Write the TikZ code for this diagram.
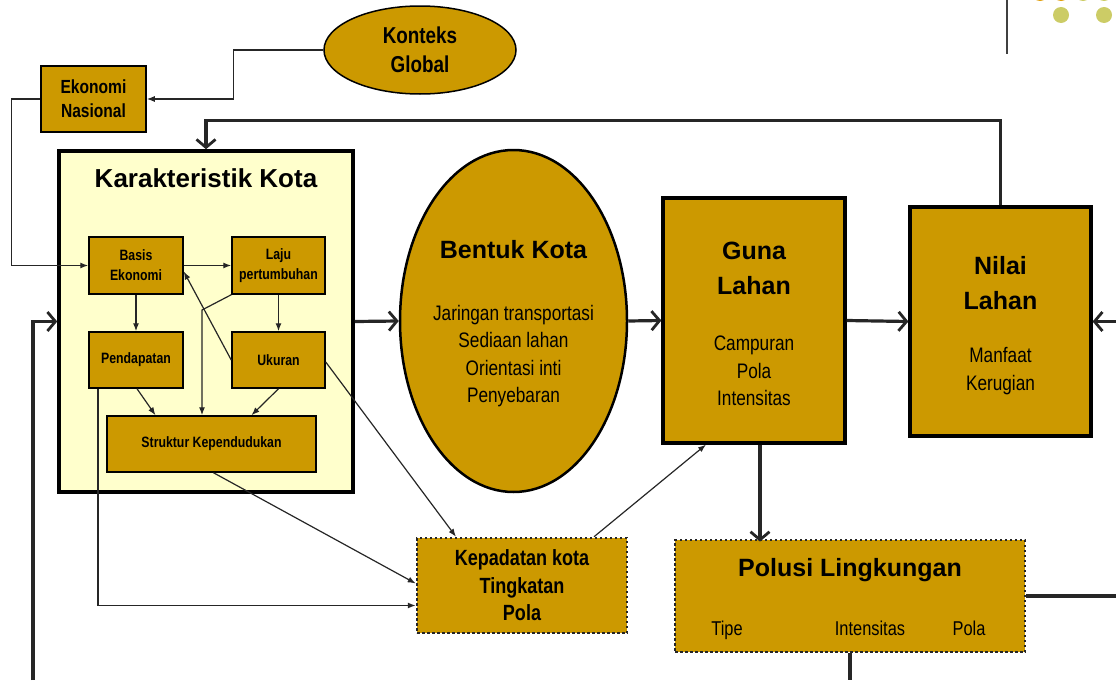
\documentclass[tikz,border=0pt]{standalone}
\usepackage{fontspec}
\setmainfont{Liberation Sans}
\newfontfamily\nar[FakeStretch=0.82]{Liberation Sans}
\usetikzlibrary{arrows.meta,shapes.geometric}
\definecolor{gold}{HTML}{CC9900}
\definecolor{pale}{HTML}{FFFFCC}
\definecolor{olivedot}{HTML}{CCCC66}
\definecolor{orangedot}{HTML}{E0A010}
\begin{document}
\begin{tikzpicture}[x=1pt,y=-1pt,
  gbox/.style={draw=black, fill=gold, line width=1.5pt, inner sep=0pt, align=center},
  bigbox/.style={draw=black, fill=gold, line width=3.2pt, inner sep=0pt},
  dotbox/.style={draw=black!85, fill=gold, line width=2.5pt, dash pattern=on 2.5pt off 2.5pt, inner sep=0pt},
  oval/.style={ellipse, draw=black, fill=gold, inner sep=0pt, align=center},
  thinline/.style={line width=1.2pt, draw=black!85},
  tharr/.style={thinline, -{Latex[length=8pt,width=6pt]}},
  thickline/.style={line width=3.2pt, draw=black!85},
  tkarr/.style={thickline, -{Straight Barb[length=8pt,width=19pt,line width=2.8pt]}},
  smallfont/.style={font=\nar\bfseries\fontsize{15}{20}\selectfont},
  titlefont/.style={font=\bfseries\fontsize{25}{35}\selectfont, align=center},
  subfont/.style={font=\nar\fontsize{21}{27.6}\selectfont, align=center},
  lowfont/.style={font=\nar\fontsize{20}{24}\selectfont, anchor=base},
]
\useasboundingbox (0,0) rectangle (1116,680);

% decoration top right
\draw[line width=1.5pt, black!75] (1007,0) -- (1007,54);
\fill[orangedot] (1040,-7) circle (8);
\fill[orangedot] (1061,-7) circle (8);
\fill[olivedot] (1083,-7) circle (8);
\fill[olivedot] (1104,-7) circle (8);
\fill[olivedot] (1061,15) circle (8);
\fill[olivedot] (1104,15) circle (8);

% top nodes
\node[oval, line width=1.5pt, minimum width=192, minimum height=88,
      font=\nar\bfseries\fontsize{23}{29}\selectfont] (konteks) at (420,50) {Konteks\\Global};
\node[gbox, minimum width=105, minimum height=66,
      font=\nar\bfseries\fontsize{19}{24}\selectfont] (eko) at (93.5,99) {Ekonomi\\Nasional};

% Karakteristik Kota
\node[draw=black, fill=pale, line width=3.5pt, minimum width=294, minimum height=341, inner sep=0pt] (karak) at (206,321.5) {};
\node[font=\bfseries\fontsize{26}{30}\selectfont] (karakt) at (206,178) {Karakteristik Kota};
\node[gbox, smallfont, minimum width=94, minimum height=57] (basis) at (136,265.5) {Basis\\Ekonomi};
\node[gbox, smallfont, minimum width=93, minimum height=57] (laju) at (278.5,265.5) {Laju\\pertumbuhan};
\node[gbox, smallfont, minimum width=94, minimum height=56] (pend) at (136,360) {Pendapatan};
\node[gbox, smallfont, minimum width=93, minimum height=56] (ukur) at (278.5,360) {Ukuran};
\node[gbox, smallfont, minimum width=209, minimum height=56] (struk) at (211.5,444) {Struktur Kependudukan};

% Bentuk Kota
\node[oval, line width=2.5pt, minimum width=227, minimum height=342] (bentuk) at (513.5,321) {};
\node[titlefont] (bentukt) at (513.5,250) {Bentuk Kota};
\node[subfont] (bentuks) at (513.5,356) {Jaringan transportasi\\Sediaan lahan\\Orientasi inti\\Penyebaran};

% Guna Lahan
\node[bigbox, minimum width=182, minimum height=245] (guna) at (754,320.5) {};
\node[titlefont] (gunat) at (754,268) {Guna\\Lahan};
\node[subfont] (gunas) at (754,371) {Campuran\\Pola\\Intensitas};

% Nilai Lahan
\node[bigbox, minimum width=181, minimum height=229] (nilai) at (1000.5,321.5) {};
\node[titlefont] (nilait) at (1000.5,283) {Nilai\\Lahan};
\node[subfont] (nilais) at (1000.5,371) {Manfaat\\Kerugian};

% Kepadatan
\node[dotbox, minimum width=210, minimum height=95, align=center,
      font=\nar\bfseries\fontsize{22}{27.5}\selectfont] (kepad) at (522,585.5) {Kepadatan kota\\Tingkatan\\Pola};

% Polusi
\node[dotbox, minimum width=350, minimum height=112] (polusi) at (850,596) {};
\node[titlefont] (polusit) at (850,570) {Polusi Lingkungan};
\node[lowfont] (tipe) at (727,635) {Tipe};
\node[lowfont] (intens) at (870,635) {Intensitas};
\node[lowfont] (pola) at (969,635) {Pola};

% free ends
\coordinate (rin) at (1116,321.5);
\coordinate (lin) at (33,680);
\coordinate (rout) at (1116,596);
\coordinate (bout) at (850,680);
\coordinate (lj) at (202,310);

% thick connectors
\draw[tkarr] (nilai.north) -- ++(0,-85) -| (karak.north);
\draw[tkarr] (karak.east) -- (bentuk.west);
\draw[tkarr] (bentuk.east) -- (guna.west);
\draw[tkarr] (guna.east) -- (nilai.west);
\draw[tkarr] (rin) -- (nilai.east);
\draw[tkarr] (lin) |- (karak.west);
\draw[tkarr] ([xshift=6pt]guna.south) -- ++(0,97);
\draw[thickline] (polusi.east) -- (rout);
\draw[thickline] (polusi.south) -- (bout);

% thin connectors
\draw[tharr] (konteks.west) -- ++(-90,0) |- (eko.east);
\draw[tharr] (eko.west) -- ++(-29,0) |- (basis.west);
\draw[tharr] (basis.east) -- (laju.west);
\draw[tharr] (basis.south) -- (pend.north);
\draw[tharr] (laju.south) -- (ukur.north);
\draw[tharr] (ukur.west) -- ([yshift=-6pt]basis.east);
\draw[tharr] (laju.south west) -- (lj) -- (lj |- struk.north);
\draw[tharr] ([xshift=1pt]pend.south) -- ([xshift=-56pt]struk.north);
\draw[tharr] (ukur.south) -- ([xshift=40pt]struk.north);
\draw[tharr] ([xshift=-38pt]pend.south) |- ([yshift=-20pt]kepad.west);
\draw[tharr] ([xshift=2pt]struk.south) -- ([yshift=2pt]kepad.west);
\draw[tharr] ([yshift=-2pt]ukur.east) -- ([xshift=-66pt]kepad.north);
\draw[tharr] ([xshift=72pt]kepad.north) -- ([xshift=-48pt]guna.south);
\end{tikzpicture}
\end{document}
